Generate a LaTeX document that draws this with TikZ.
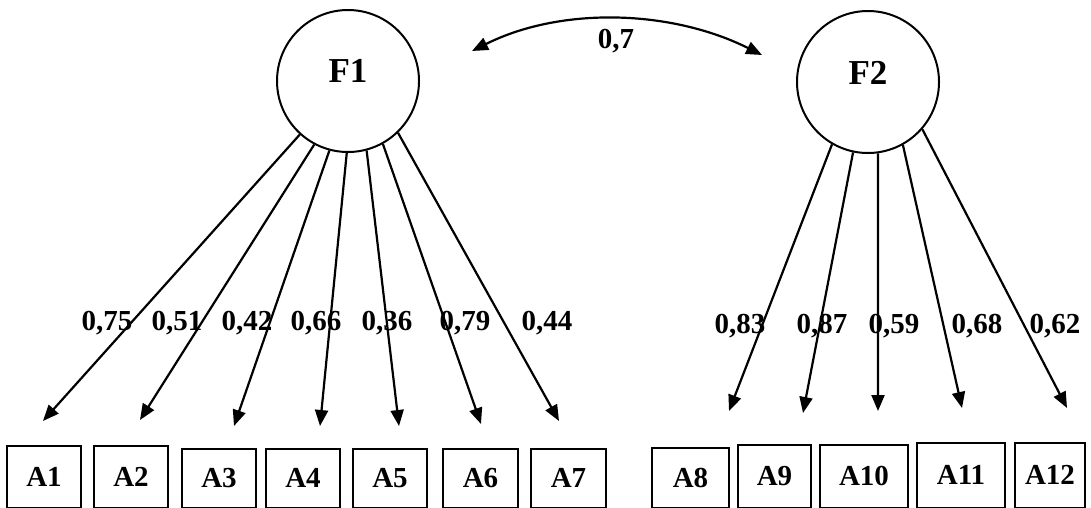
\documentclass[tikz,border=0pt]{standalone}
\usepackage{fontspec}
\setmainfont{Liberation Serif}
\usetikzlibrary{arrows.meta}
\tikzset{
  factor/.style={circle, draw, line width=2pt, minimum size=142pt, inner sep=0pt},
  ftext/.style={font=\bfseries\fontsize{35}{38}\selectfont},
  itembox/.style={draw, line width=2pt, inner sep=0pt, font=\bfseries\fontsize{29}{32}\selectfont},
  load/.style={font=\bfseries\fontsize{29}{32}\selectfont, inner sep=0pt},
  conn/.style={line width=2.2pt, -{Triangle[length=16pt,width=13pt]}},
  biconn/.style={line width=2.2pt, {Triangle[length=16pt,width=13pt]}-{Triangle[length=16pt,width=13pt]}}
}
\begin{document}
\begin{tikzpicture}[x=1pt,y=-1pt]
\useasboundingbox (0,0) rectangle (1091,507);
% factors
\node[factor] (F1) at (348,81) {};
\node[ftext] (F1t) at (348,71) {F1};
\node[factor] (F2) at (868,82) {};
\node[ftext] (F2t) at (868,73) {F2};
% covariance
\coordinate (cL) at (472,51);
\coordinate (cR) at (762,55);
\draw[biconn] (cL) .. controls (562,6) and (672,10) .. (cR);
\node[load] (r) at (616,41) {0,7};
% item boxes (x-left, x-right, top)
\foreach \n/\l/\r/\t in {1/7/81/446, 2/94/168/446, 3/182/256/449, 4/266/340/449, 5/353/427/449, 6/443/518/449, 7/531/606/449, 8/652/729/448, 9/738/811/445, 10/820/908/445, 11/917/1005/443, 12/1015/1085/443}{
  \node[itembox, minimum width={\r-\l}, minimum height={507.5-\t}] (A\n) at ({(\l+\r)/2},{(\t+507.5)/2}) {A\n};
}
% arrow tips
\foreach \n/\x/\y in {1/43/421, 2/140/420, 3/234/426, 4/320/426, 5/399/426, 6/481/424, 7/559/421, 8/729/411, 9/803/413, 10/878/411, 11/962/408, 12/1067/408}{
  \coordinate (t\n) at (\x,\y);
}
% loadings F1
\foreach \n/\a in {1/-132, 2/-118, 3/-105.5, 4/-91, 5/-75.5, 6/-61, 7/-46}{
  \draw[conn] (F1.\a) -- (t\n);
}
\foreach \n/\a in {8/-120.5, 9/-102, 10/-82, 11/-61.5, 12/-41}{
  \draw[conn] (F2.\a) -- (t\n);
}
% loading labels
\foreach \n/\x/\y/\v in {1/107/323/{0,75}, 2/177/323/{0,51}, 3/247/323/{0,42}, 4/316/323/{0,66}, 5/387/323/{0,36}, 6/465/323/{0,79}, 7/547/323/{0,44}, 8/740/326/{0,83}, 9/822/326/{0,87}, 10/894/326/{0,59}, 11/977/326/{0,68}, 12/1055/326/{0,62}}{
  \node[load] (L\n) at (\x,\y) {\v};
}
\end{tikzpicture}
\end{document}
